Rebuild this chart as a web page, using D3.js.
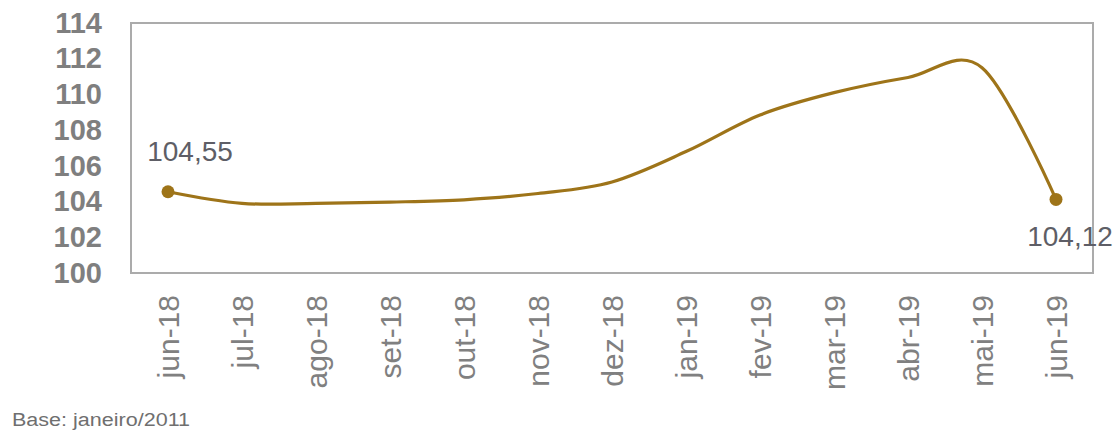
<!DOCTYPE html>
<html><head><meta charset="utf-8">
<script src="https://cdn.jsdelivr.net/npm/d3@7/dist/d3.min.js"></script>
<style>body{margin:0;background:#fff}svg{display:block}</style>
</head><body>
<svg id="c" width="1119" height="433"></svg>
<script>
const categories = ["jun-18","jul-18","ago-18","set-18","out-18","nov-18","dez-18","jan-19","fev-19","mar-19","abr-19","mai-19","jun-19"];
const values = [104.55,103.9,103.9,103.97,104.1,104.45,105.1,106.8,108.85,110.1,110.95,111.5,104.12];
const yTicks = [100,102,104,106,108,110,112,114];
const pointLabels = [{i:0,text:"104,55"},{i:12,text:"104,12"}];
const note = "Base: janeiro/2011";

const svg = d3.select("#c");
const L=131,R=1093,T=23,B=273;
const x = d3.scalePoint().domain(categories).range([L,R]).padding(0.5);
const y = d3.scaleLinear().domain([100,114]).range([B,T]);
const col = "#9E7419";

svg.append("rect").attr("x",L).attr("y",T).attr("width",R-L).attr("height",B-T)
  .attr("fill","none").attr("stroke","#ababab").attr("stroke-width",2);

const yAxis = svg.append("g").attr("transform",`translate(${L},0)`)
  .call(d3.axisLeft(y).tickValues(yTicks).tickSize(0).tickPadding(29));
yAxis.select(".domain").remove();
yAxis.selectAll("text").attr("font-family","Liberation Sans, Arial, sans-serif")
  .attr("font-size",29).attr("font-weight","bold").attr("fill","#7f7f7f");

const xAxis = svg.append("g").attr("transform",`translate(0,${B})`)
  .call(d3.axisBottom(x).tickSize(0));
xAxis.select(".domain").remove();
xAxis.selectAll("text").attr("font-family","Liberation Sans, Arial, sans-serif")
  .attr("font-size",30).attr("fill","#808080")
  .attr("text-anchor","end").attr("transform","rotate(-90)")
  .attr("x",-22).attr("y",0).attr("dy","0.36em");

const line = d3.line().x((d,i)=>x(categories[i])).y(d=>y(d)).curve(d3.curveCardinal.tension(0));
svg.append("path").datum(values).attr("d",line).attr("fill","none")
  .attr("stroke",col).attr("stroke-width",3.2);

svg.selectAll(".pt").data(pointLabels).enter().append("circle")
  .attr("cx",d=>x(categories[d.i])).attr("cy",d=>y(values[d.i])).attr("r",6.5).attr("fill",col);

svg.selectAll(".lbl").data(pointLabels).enter().append("text")
  .attr("x",d=>x(categories[d.i])+(d.i===0?22:14))
  .attr("y",d=>y(values[d.i])+(d.i===0?-31:47))
  .attr("text-anchor","middle").attr("font-family","Liberation Sans, Arial, sans-serif")
  .attr("font-size",28).attr("fill","#5e5e66").text(d=>d.text);

svg.append("text").attr("x",12).attr("y",426).attr("font-family","Liberation Sans, Arial, sans-serif")
  .attr("font-size",18).attr("fill","#6f6f6f")
  .attr("textLength",178).attr("lengthAdjust","spacingAndGlyphs").text(note);
</script>
</body></html>
